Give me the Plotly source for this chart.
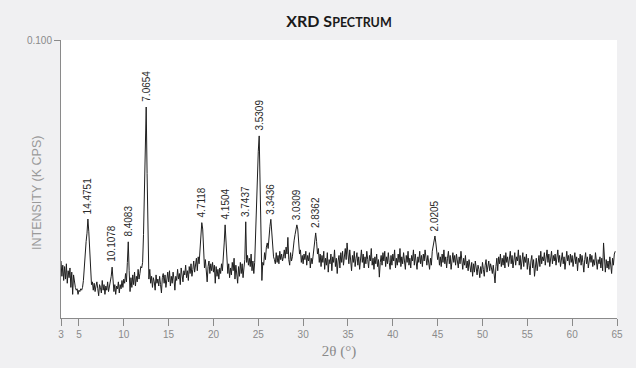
import numpy as np
import plotly.graph_objects as go

cps_rows = [
    [20.5, 15.0, 19.0, 13.5, 18.5, 14.0, 19.5, 12.5, 17.0, 14.5],   # 3.x
    [18.0, 11.0, 16.5, 8.5, 15.5, 12.0, 11.0, 10.0, 10.5, 8.5],     # 4.x
    [10.0, 9.5, 10.5, 10.0, 11.0, 13.5, 18.5, 25.0, 27.5, 30.5],    # 5.x
    [35.6, 31.0, 23.0, 16.0, 12.0, 13.0, 10.0, 12.5, 9.5, 11.5],    # 6.x
    [13.0, 10.5, 8.0, 12.0, 11.0, 9.0, 13.5, 10.0, 12.0, 8.5],      # 7.x
    [11.5, 10.0, 13.0, 9.5, 11.0, 12.5, 15.0, 18.3, 12.0, 9.5],     # 8.x
    [12.0, 8.5, 11.5, 10.5, 13.0, 9.0, 12.0, 10.5, 13.5, 11.0],     # 9.x
    [14.0, 12.5, 16.0, 13.0, 20.0, 27.4, 17.0, 9.5, 14.5, 11.0],    # 10.x
    [15.5, 12.0, 16.5, 11.5, 15.0, 13.0, 17.5, 14.0, 16.0, 18.5],   # 11.x
    [18.0, 20.0, 30.0, 50.0, 68.0, 75.9, 52.0, 25.0, 14.0, 17.5],   # 12.x
    [12.5, 15.0, 11.0, 14.5, 13.0, 10.0, 15.5, 12.5, 14.0, 11.5],   # 13.x
    [15.0, 12.0, 9.0, 14.5, 16.0, 12.5, 15.5, 11.0, 14.0, 16.5],    # 14.x
    [13.0, 17.0, 11.5, 15.0, 12.5, 16.5, 14.0, 10.0, 15.0, 13.5],   # 15.x
    [17.5, 14.0, 16.0, 12.0, 18.0, 15.0, 13.0, 17.0, 15.5, 19.0],   # 16.x
    [14.5, 17.0, 13.5, 18.5, 16.0, 19.5, 15.0, 17.5, 20.5, 16.5],   # 17.x
    [19.0, 21.5, 17.0, 22.0, 19.5, 24.0, 29.0, 34.3, 32.0, 24.0],   # 18.x
    [18.0, 21.0, 15.0, 13.0, 18.5, 20.5, 16.0, 19.5, 17.0, 20.0],   # 19.x
    [16.5, 19.0, 12.5, 18.5, 15.0, 17.5, 14.0, 18.0, 16.0, 19.5],   # 20.x
    [17.0, 21.0, 27.0, 33.5, 28.0, 20.0, 16.0, 19.5, 14.5, 18.0],   # 21.x
    [15.5, 20.0, 17.0, 21.5, 14.0, 19.0, 16.5, 12.5, 18.5, 15.0],   # 22.x
    [20.0, 16.0, 19.5, 14.5, 18.0, 21.0, 34.6, 20.0, 22.5, 19.0],   # 23.x
    [21.5, 18.5, 23.0, 17.0, 20.5, 16.0, 20.0, 30.0, 48.0, 57.0],   # 24.x
    [60.0, 65.5, 45.0, 22.0, 13.5, 20.0, 19.0, 23.5, 21.0, 25.5],   # 25.x
    [27.0, 25.0, 30.0, 33.0, 35.5, 31.0, 26.0, 22.0, 21.0, 19.5],   # 26.x
    [23.5, 20.0, 22.5, 19.5, 24.0, 21.0, 23.0, 20.5, 22.0, 24.5],   # 27.x
    [21.5, 25.5, 23.0, 29.0, 21.0, 19.0, 23.5, 20.5, 22.0, 26.5],   # 28.x
    [28.0, 30.0, 31.5, 33.5, 32.0, 27.5, 23.0, 24.5, 20.0, 22.5],   # 29.x
    [19.5, 23.0, 21.0, 24.0, 19.0, 22.5, 20.5, 23.5, 18.0, 21.5],   # 30.x
    [19.5, 22.0, 24.5, 27.0, 30.6, 27.5, 23.0, 25.0, 20.0, 23.0],   # 31.x
    [18.5, 22.5, 20.0, 24.0, 17.5, 21.5, 19.0, 23.5, 16.5, 21.0],   # 32.x
    [19.5, 23.0, 17.0, 22.0, 20.0, 24.5, 18.5, 21.5, 16.0, 20.5],   # 33.x
    [22.5, 18.0, 23.5, 20.0, 24.0, 19.0, 22.0, 25.0, 21.0, 27.0],   # 34.x
    [23.0, 19.5, 24.5, 21.0, 17.0, 22.5, 20.0, 24.0, 18.5, 21.5],   # 35.x
    [23.5, 19.0, 22.0, 17.5, 21.0, 24.5, 20.0, 23.0, 18.0, 22.0],   # 36.x
    [19.5, 24.0, 21.0, 18.0, 22.5, 20.5, 25.0, 19.0, 21.5, 17.5],   # 37.x
    [22.0, 19.5, 23.0, 18.5, 21.0, 14.7, 20.0, 22.5, 19.0, 23.5],   # 38.x
    [20.5, 24.0, 18.5, 22.0, 19.5, 23.5, 20.0, 17.5, 22.5, 19.0],   # 39.x
    [23.0, 20.5, 24.5, 18.0, 21.5, 19.0, 23.0, 20.0, 25.0, 18.5],   # 40.x
    [22.0, 19.5, 23.5, 21.0, 17.5, 22.5, 20.0, 24.0, 19.0, 21.5],   # 41.x
    [18.0, 22.5, 20.5, 24.5, 19.0, 23.0, 21.0, 17.5, 22.0, 20.0],   # 42.x
    [24.0, 19.5, 22.5, 18.5, 23.0, 20.5, 24.5, 21.0, 19.0, 22.5],   # 43.x
    [20.0, 17.5, 21.5, 19.0, 24.0, 26.0, 28.0, 29.5, 27.0, 24.5],   # 44.x
    [21.0, 23.5, 19.0, 22.0, 18.5, 23.0, 20.0, 24.5, 19.5, 22.0],   # 45.x
    [18.0, 21.5, 24.0, 19.5, 22.5, 17.5, 21.0, 23.5, 20.0, 22.5],   # 46.x
    [19.0, 23.0, 20.5, 18.0, 22.0, 19.5, 24.0, 20.5, 17.5, 21.5],   # 47.x
    [19.0, 22.5, 18.0, 20.5, 17.0, 21.0, 18.5, 16.5, 20.0, 15.0],   # 48.x
    [19.5, 16.5, 20.5, 17.0, 15.5, 19.0, 17.5, 14.5, 18.5, 16.0],   # 49.x
    [20.0, 17.5, 15.0, 19.0, 21.0, 16.5, 18.5, 20.5, 17.0, 19.5],   # 50.x
    [18.0, 16.0, 19.0, 15.5, 12.6, 18.5, 21.5, 17.0, 22.0, 19.5],   # 51.x
    [23.0, 18.5, 21.5, 19.0, 22.5, 18.0, 23.5, 20.0, 22.0, 18.5],   # 52.x
    [21.0, 24.0, 19.5, 22.5, 18.0, 21.5, 23.5, 19.0, 22.0, 20.5],   # 53.x
    [24.5, 19.0, 22.5, 17.5, 21.0, 23.5, 18.5, 22.0, 20.0, 23.0],   # 54.x
    [17.5, 21.5, 19.0, 15.5, 20.5, 22.5, 18.0, 21.0, 15.0, 19.5],   # 55.x
    [21.5, 17.0, 20.0, 22.5, 18.5, 24.0, 19.5, 22.0, 20.5, 23.5],   # 56.x
    [19.0, 22.0, 24.5, 20.0, 23.0, 18.5, 21.5, 24.0, 19.5, 22.5],   # 57.x
    [20.5, 23.0, 19.0, 22.0, 24.5, 20.0, 22.5, 18.5, 21.0, 23.5],   # 58.x
    [19.5, 22.0, 17.5, 21.5, 24.0, 20.5, 22.5, 19.0, 23.0, 20.0],   # 59.x
    [22.5, 18.5, 21.0, 23.5, 19.5, 22.0, 17.0, 21.5, 20.0, 23.0],   # 60.x
    [19.0, 22.5, 20.0, 16.5, 21.0, 23.5, 19.5, 22.0, 18.0, 21.5],   # 61.x
    [23.0, 20.0, 22.5, 18.5, 21.0, 19.0, 23.5, 20.5, 17.5, 21.0],   # 62.x
    [19.5, 22.0, 18.0, 21.5, 17.0, 27.0, 19.5, 16.5, 21.0, 18.0],   # 63.x
    [20.5, 17.5, 22.0, 18.5, 16.0, 21.5, 19.0, 23.0, 24.0],         # 64.0-64.8
]
start_2theta = 3.0
step_2theta = 0.1

# Labelled peaks: d-spacing label and the 2-theta where it sits
peak_labels = ["14.4751", "10.1078", "8.4083", "7.0654", "4.7118", "4.1504",
               "3.7437", "3.5309", "3.3436", "3.0309", "2.8362", "2.0205"]
peak_2theta = [6.0, 8.7, 10.5, 12.5, 18.7, 21.3, 23.6, 25.1, 26.4, 29.3, 31.4, 44.7]

x_ticks = [3, 5, 10, 15, 20, 25, 30, 35, 40, 45, 50, 55, 60, 65]
y_ticks = [0.1]
y_tick_text = ["0.100"]

cps = np.array([v for row in cps_rows for v in row])
intensity = cps / 1000.0  # k cps
two_theta = np.round(start_2theta + step_2theta * np.arange(len(cps)), 1)

fig = go.Figure()
fig.add_trace(go.Scatter(
    x=two_theta, y=intensity, mode="lines",
    line=dict(color="#1e1e1e", width=1), hoverinfo="skip", showlegend=False,
))

for lab, pos in zip(peak_labels, peak_2theta):
    idx = int(np.argmin(np.abs(two_theta - pos)))
    fig.add_annotation(
        x=two_theta[idx], y=intensity[idx], text=lab, showarrow=False,
        textangle=-90, xanchor="center", yanchor="bottom", yshift=3,
        font=dict(family="Liberation Sans, Arial, sans-serif", size=10, color="#2a2a2a"),
    )

fig.add_annotation(
    xref="paper", yref="paper", x=-0.043, y=0.45, text="INTENSITY (K CPS)",
    showarrow=False, textangle=-90, xanchor="center", yanchor="middle",
    font=dict(family="Liberation Sans, Arial, sans-serif", size=12.5, color="#9a9a9a"),
)

fig.update_layout(
    width=636, height=368,
    margin=dict(l=61, r=19, t=40, b=50),
    paper_bgcolor="#f0f0f2", plot_bgcolor="#ffffff",
    title=dict(
        text="<b>XRD S<span style='font-size:12.5px'>PECTRUM</span></b>",
        x=0.5, xref="paper", xanchor="center",
        y=1 - 21 / 368, yref="container", yanchor="middle",
        font=dict(family="Lato, Noto Sans, sans-serif", size=16, color="#1a1a1a"),
    ),
    xaxis=dict(
        range=[3, 65], tickvals=x_ticks, ticks="outside", ticklen=7, tickwidth=1,
        tickcolor="#8a8a8a", showline=True, linecolor="#8a8a8a", linewidth=1,
        showgrid=False, zeroline=False,
        tickfont=dict(family="Liberation Sans, Arial, sans-serif", size=10, color="#8a8a8a"),
        title=dict(text="2θ (°)", standoff=6,
                   font=dict(family="Liberation Serif, Times New Roman, serif", size=15, color="#8a8a8a")),
    ),
    yaxis=dict(
        range=[0, 0.1], tickvals=y_ticks, ticktext=y_tick_text, ticks="outside",
        ticklen=6, tickwidth=1, tickcolor="#8a8a8a", showline=True,
        linecolor="#8a8a8a", linewidth=1, showgrid=False, zeroline=False,
        tickfont=dict(family="Liberation Sans, Arial, sans-serif", size=10, color="#8a8a8a"),
    ),
)

fig.write_html(
    "out.html",
    config={"displayModeBar": False},
    post_script="document.body.style.margin='0';document.body.style.background='#f0f0f2';",
)
